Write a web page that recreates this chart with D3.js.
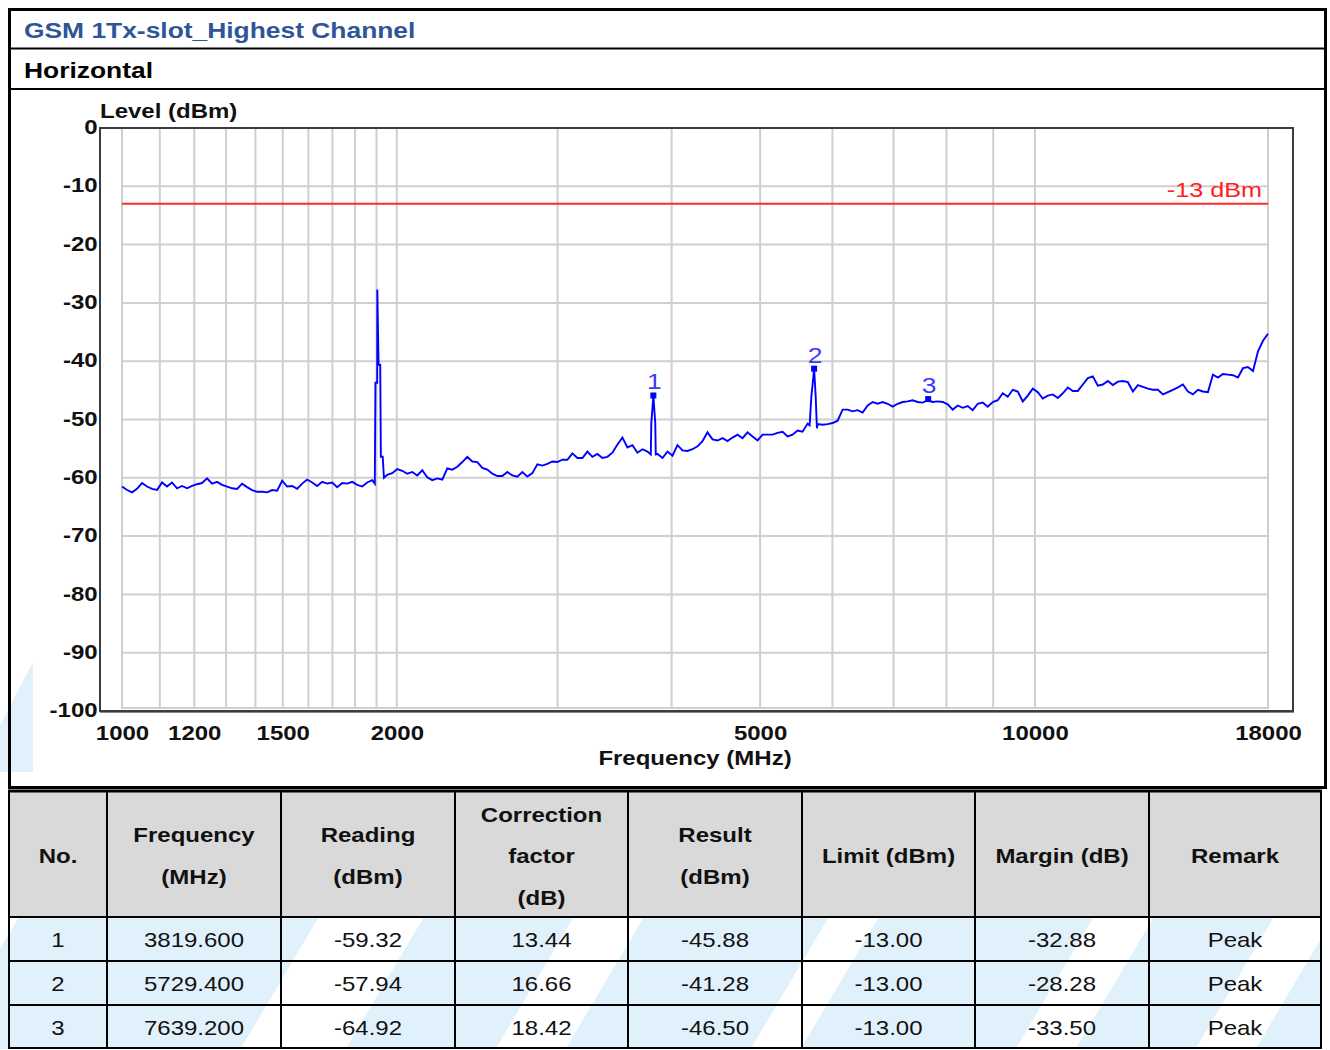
<!DOCTYPE html>
<html>
<head>
<meta charset="utf-8">
<script src="https://cdn.jsdelivr.net/npm/d3@7"></script>
<style>
  body { margin: 0; background: #fff; }
  text { font-family: "Liberation Sans", Arial, sans-serif; }
</style>
</head>
<body>
<svg id="page" width="1330" height="1050"></svg>
<script>
/* global d3 */

// ---- data ----
var chartTitle = "GSM 1Tx-slot_Highest Channel",
  polarization = "Horizontal",
  sweepStart = 1000,
  sweepStop = 18000;

// trace levels (dBm), one per sweep point
var sweepLevels = [
  -61.5,-62.1,-62.5,-61.9,-60.9,-61.5,-61.9,-62.1,-60.8,-61.5,
  -60.8,-61.8,-61.4,-61.8,-61.4,-61.1,-60.9,-60.1,-61.0,-60.7,
  -61.2,-61.5,-61.8,-61.9,-61.0,-61.6,-62.1,-62.4,-62.4,-62.5,
  -62.1,-62.2,-60.5,-61.5,-61.4,-61.9,-61.0,-60.3,-60.8,-61.4,
  -60.7,-61.0,-60.8,-61.6,-60.9,-61.0,-60.7,-61.2,-61.5,-60.8,
  -60.4,-43.7,-56.4,-59.5,-59.2,-58.5,
  -58.8,-59.3,-59.0,-59.6,-58.7,-59.9,-60.4,-60.1,-60.3,-58.4,
  -58.6,-58.1,-57.3,-56.4,-57.2,-57.3,-58.3,-58.6,-59.3,-59.7,
  -59.7,-59.0,-59.6,-59.8,-59.0,-59.8,-59.2,-57.7,-57.9,-57.6,
  -57.2,-57.3,-56.9,-56.9,-55.8,-56.6,-56.6,-55.5,-56.4,-55.9,
  -56.6,-56.4,-55.7,-54.3,-53.1,-54.8,-54.4,-55.7,-55.1,-55.5,
  -48.0,
  -55.9,-56.6,-55.5,-56.2,-54.4,-55.3,-55.4,-55.1,-54.6,
  -53.7,-52.2,-53.4,-53.6,-53.2,-53.7,-53.1,-52.6,-53.2,-52.2,
  -52.9,-53.6,-52.6,-52.6,-52.6,-52.3,-52.1,-52.9,-52.6,-51.9,-52.1,-50.7,
  -44.0,
  -50.8,-50.9,-50.8,-50.6,-50.2,-48.3,-48.3,-48.6,-48.4,-48.8,
  -47.6,-47.0,-47.3,-47.0,-47.3,-47.8,-47.3,-47.0,-46.9,-46.7,
  -47.0,-47.1,-46.7,-47.0,-46.9,-47.0,-47.4,-48.3,-47.6,-48.0,
  -47.7,-48.4,-47.3,-47.1,-47.8,-47.0,-46.7,-45.5,-46.1,-44.9,
  -45.2,-46.9,-45.9,-44.7,-45.3,-46.4,-45.9,-45.7,-46.3,-45.5,
  -44.5,-45.1,-45.1,-44.0,-42.9,-42.6,-44.2,-44.0,-43.4,-44.1,
  -43.5,-43.4,-43.6,-45.2,-44.1,-44.4,-44.7,-44.9,-44.9,-45.7,
  -45.3,-44.9,-44.5,-44.0,-45.2,-45.7,-44.9,-45.2,-45.3,-42.3,
  -42.8,-42.2,-42.3,-42.4,-42.8,-41.2,-41.0,-41.7,-38.3,-36.5,-35.3
];

// extra points around the carrier and its harmonics
var spurFreq = [1892, 1895, 1904, 1910, 1918, 1921, 1930, 1936,
  3795, 3800, 3819.6, 3838, 3843,
  5665, 5690, 5729.4, 5752, 5770];
var spurLevel = [-61, -43.7, -27.7, -40.6, -40.6, -56.4, -56.4, -60,
  -56, -50.6, -45.88, -50.6, -56,
  -51, -46, -41.28, -46, -51.5];

var limitLevel = -13;

var xGrid = [1000, 1100, 1200, 1300, 1400, 1500, 1600, 1700, 1800, 1900, 2000,
  3000, 4000, 5000, 6000, 7000, 8000, 9000, 10000, 18000];
var xTicks = [1000, 1200, 1500, 2000, 5000, 10000, 18000];
var yTicks = [0, -10, -20, -30, -40, -50, -60, -70, -80, -90, -100];

// marker table
var markerNo = [1, 2, 3];
var markerFreq = [3819.6, 5729.4, 7639.2];
var markerReading = [-59.32, -57.94, -64.92];
var markerFactor = [13.44, 16.66, 18.42];
var markerResult = [-45.88, -41.28, -46.50];
var markerMargin = [-32.88, -28.28, -33.50];
var markerRemark = ["Peak", "Peak", "Peak"];
var tableHeader = [["No."], ["Frequency", "(MHz)"], ["Reading", "(dBm)"],
  ["Correction", "factor", "(dB)"], ["Result", "(dBm)"], ["Limit (dBm)"],
  ["Margin (dB)"], ["Remark"]];

// ---- layout ----
var sx = 1.2;   // the report's text is drawn a bit wide
var svg = d3.select("#page");

function label(g, x, y, str, o) {
  o = o || {};
  return g.append("text")
    .attr("transform", "translate(" + x + "," + y + ") scale(" + sx + ",1)")
    .attr("text-anchor", o.anchor || "start")
    .attr("font-size", o.size || 20)
    .attr("font-weight", o.weight || "normal")
    .attr("fill", o.color || "#000")
    .text(str);
}

svg.append("rect").attr("width", 1330).attr("height", 1050).attr("fill", "#fff");

// faint watermark behind the report
var wm = svg.append("g").attr("fill", "#e1f1fc");
wm.append("path").attr("d", "M0,725 L33,662 L33,772 L0,772 Z");
var defs = svg.append("defs");
defs.append("clipPath").attr("id", "rowsClip")
  .append("rect").attr("x", 0).attr("y", 917).attr("width", 1322).attr("height", 132);
var bands = [[-60, 300], [345, 150], [565, 185], [800, 215], [1075, 120], [1255, 80]];
svg.append("g").attr("clip-path", "url(#rowsClip)").attr("fill", "#e1f1fc")
  .selectAll("path").data(bands).enter().append("path")
  .attr("d", function(b) {
    return "M" + b[0] + ",1050 L" + (b[0] + 80) + ",915 L" + (b[0] + 80 + b[1]) + ",915 L" + (b[0] + b[1]) + ",1050 Z";
  });

// ---- report frame ----
var frame = svg.append("g").attr("stroke", "#000").attr("fill", "none");
frame.append("rect").attr("x", 9.5).attr("y", 9.5).attr("width", 1316).attr("height", 778).attr("stroke-width", 3);
frame.append("line").attr("x1", 9).attr("x2", 1326).attr("y1", 48.5).attr("y2", 48.5).attr("stroke-width", 2);
frame.append("line").attr("x1", 9).attr("x2", 1326).attr("y1", 89).attr("y2", 89).attr("stroke-width", 2);

label(svg, 24, 38, chartTitle, {size: 22, weight: "bold", color: "#2f5597"});
label(svg, 24, 78, polarization, {size: 22, weight: "bold"});

// ---- spectrum plot ----
var x = d3.scaleLog().domain([sweepStart, sweepStop]).range([122, 1268]);
var y = d3.scaleLinear().domain([-100, 0]).range([711, 128]);

var plot = svg.append("g");

plot.append("g").attr("stroke", "#cfcfcf").attr("stroke-width", 2)
  .selectAll("line.v").data(xGrid).enter().append("line")
  .attr("x1", function(d) { return x(d); }).attr("x2", function(d) { return x(d); })
  .attr("y1", y(0) + 1).attr("y2", y(-100) - 2);

plot.append("g").attr("stroke", "#cfcfcf").attr("stroke-width", 2)
  .selectAll("line.h").data(yTicks).enter().append("line")
  .attr("x1", x(sweepStart)).attr("x2", x(sweepStop))
  .attr("y1", function(d) { return y(d) - (d === -100 ? 3 : 0); })
  .attr("y2", function(d) { return y(d) - (d === -100 ? 3 : 0); });

plot.append("rect").attr("x", 100).attr("y", y(0)).attr("width", 1193).attr("height", y(-100) - y(0))
  .attr("fill", "none").attr("stroke", "#3c3c3c").attr("stroke-width", 2);
plot.append("line").attr("x1", 100).attr("x2", 1294).attr("y1", y(-100) + 1.5).attr("y2", y(-100) + 1.5)
  .attr("stroke", "#8a8a8a").attr("stroke-width", 1);

// limit line
plot.append("line").attr("x1", x(sweepStart)).attr("x2", x(sweepStop))
  .attr("y1", y(limitLevel)).attr("y2", y(limitLevel))
  .attr("stroke", "#ff2a2a").attr("stroke-width", 2);
label(plot, 1262, y(limitLevel) - 7, limitLevel + " dBm", {anchor: "end", size: 21, color: "#ff2020"});

// trace: log-spaced sweep points plus the spur points
var n = sweepLevels.length;
var trace = sweepLevels.map(function(v, i) {
  return [sweepStart * Math.pow(sweepStop / sweepStart, i / (n - 1)), v];
});
spurFreq.forEach(function(f, i) { trace.push([f, spurLevel[i]]); });
trace.sort(function(a, b) { return a[0] - b[0]; });

var line = d3.line()
  .x(function(d) { return x(d[0]); })
  .y(function(d) { return y(d[1]); });

plot.append("path").datum(trace)
  .attr("d", line)
  .attr("fill", "none")
  .attr("stroke", "#0000ff")
  .attr("stroke-width", 1.9)
  .attr("stroke-linejoin", "miter");

// markers
var mk = plot.selectAll("g.marker").data(markerNo).enter().append("g").attr("class", "marker");
mk.append("rect")
  .attr("x", function(d, i) { return x(markerFreq[i]) - 3; })
  .attr("y", function(d, i) { return y(markerResult[i]) - 3; })
  .attr("width", 6).attr("height", 6).attr("fill", "#0000ff");
mk.each(function(d, i) {
  label(d3.select(this), x(markerFreq[i]) + 1, y(markerResult[i]) - 6, String(d), {anchor: "middle", size: 22, color: "#3a3aff"});
});

// axes
var yAxis = plot.append("g").attr("transform", "translate(100,0)")
  .call(d3.axisLeft(y).tickValues(yTicks).tickFormat(String).tickSize(0).tickPadding(2));
var xAxis = plot.append("g").attr("transform", "translate(0," + y(-100) + ")")
  .call(d3.axisBottom(x).tickValues(xTicks).tickFormat(String).tickSize(0).tickPadding(15));
[yAxis, xAxis].forEach(function(a) {
  a.select(".domain").remove();
  a.selectAll("text")
    .attr("font-family", "'Liberation Sans', Arial, sans-serif")
    .attr("font-size", 20).attr("font-weight", "bold").attr("fill", "#111")
    .attr("transform", "scale(" + sx + ",1)");
});
yAxis.selectAll("text").attr("dy", "0.28em");

label(plot, 100, 118, "Level (dBm)", {size: 20, weight: "bold", color: "#111"});
label(plot, (x(sweepStart) + x(sweepStop)) / 2, 765, "Frequency (MHz)", {anchor: "middle", size: 20, weight: "bold", color: "#111"});

// ---- marker table ----
var colX = [9, 107, 281, 455, 628, 802, 975, 1149, 1321];
var rowY = [791, 917, 961, 1005, 1048];
var table = svg.append("g");

table.append("rect").attr("x", colX[0]).attr("y", rowY[0])
  .attr("width", colX[8] - colX[0]).attr("height", rowY[1] - rowY[0]).attr("fill", "#d9d9d9");

var rows = markerNo.map(function(d, i) {
  return [String(d), markerFreq[i].toFixed(3), markerReading[i].toFixed(2),
    markerFactor[i].toFixed(2), markerResult[i].toFixed(2), limitLevel.toFixed(2),
    markerMargin[i].toFixed(2), markerRemark[i]];
});

tableHeader.forEach(function(lines, c) {
  var cx = (colX[c] + colX[c + 1]) / 2,
    cy = (rowY[0] + rowY[1]) / 2 + 2,
    step = 41.5,
    top = cy - (lines.length - 1) * step / 2;
  lines.forEach(function(s, k) {
    label(table, cx, top + k * step + 7, s, {anchor: "middle", size: 20, weight: "bold", color: "#111"});
  });
});

rows.forEach(function(r, ri) {
  var cy = (rowY[ri + 1] + rowY[ri + 2]) / 2;
  r.forEach(function(s, c) {
    label(table, (colX[c] + colX[c + 1]) / 2, cy + 8, s, {anchor: "middle", size: 20, color: "#111"});
  });
});

var tl = table.append("g").attr("stroke", "#000").attr("stroke-width", 2);
tl.selectAll("line.c").data(colX).enter().append("line")
  .attr("x1", function(d) { return d; }).attr("x2", function(d) { return d; })
  .attr("y1", rowY[0]).attr("y2", rowY[4]);
tl.selectAll("line.r").data(rowY).enter().append("line")
  .attr("x1", colX[0] - 1).attr("x2", colX[8] + 1)
  .attr("y1", function(d) { return d; }).attr("y2", function(d) { return d; })
  .attr("stroke-width", function(d, i) { return i === 0 ? 3 : 2; });
</script>
</body>
</html>
